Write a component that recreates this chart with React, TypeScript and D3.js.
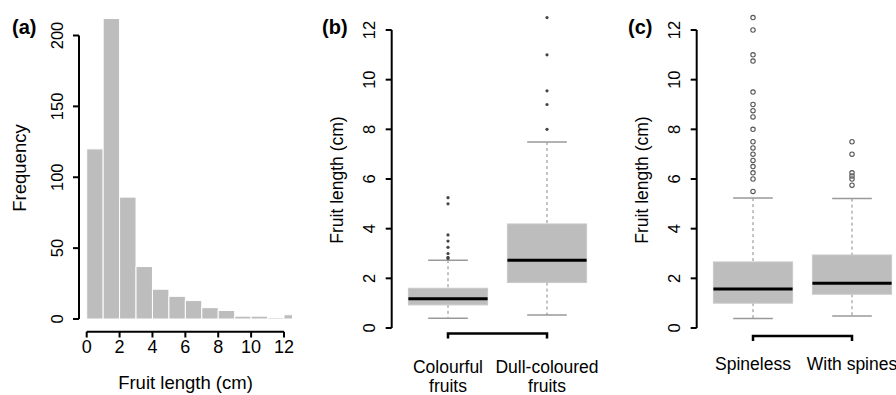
import React from "react";
import * as d3 from "d3";

// (a) histogram of fruit length, 1 cm bins
const binStarts = [0, 1, 2, 3, 4, 5, 6, 7, 8, 9, 10, 11, 12];
const binCounts = [120, 212, 86, 37, 21, 16, 13, 8, 6, 2, 2, 1, 3];
const histXTicks = [0, 2, 4, 6, 8, 10, 12];
const histYTicks = [0, 50, 100, 150, 200];

// (b) colour groups
const colourGroups = [["Colourful", "fruits"], ["Dull-coloured", "fruits"]];
const colourStats = [
  { lo: 0.39, q1: 0.93, med: 1.18, q3: 1.6, hi: 2.73 },
  { lo: 0.52, q1: 1.83, med: 2.73, q3: 4.19, hi: 7.49 },
];
const colourOutliers = [
  [2.8, 2.85, 3.0, 3.25, 3.5, 3.75, 5.0, 5.25],
  [8.0, 9.0, 9.55, 11.0, 12.5],
];

// (c) spine groups
const spineGroups = [["Spineless"], ["With spines"]];
const spineStats = [
  { lo: 0.38, q1: 1.0, med: 1.57, q3: 2.66, hi: 5.23 },
  { lo: 0.48, q1: 1.36, med: 1.8, q3: 2.94, hi: 5.21 },
];
const spineOutliers = [
  [5.5, 6.0, 6.25, 6.5, 6.75, 7.0, 7.25, 7.5, 8.0, 8.5, 8.75, 9.0, 9.5, 10.75, 11.0, 12.0, 12.5],
  [5.75, 6.0, 6.12, 6.25, 7.0, 7.5],
];
const lengthTicks = [0, 2, 4, 6, 8, 10, 12];

const FONT = "'Liberation Sans', Arial, Helvetica, sans-serif";
const GREY = "#bdbdbd";

const xA = d3.scaleLinear().domain([0, 12]).range([86.7, 284]);
const yA = d3.scaleLinear().domain([0, 200]).range([319, 35.5]);
const yLen = d3.scaleLinear().domain([0, 12]).range([328, 30]);
const xB = d3.scaleLinear().domain([1, 2]).range([448, 547]);
const xC = d3.scaleLinear().domain([1, 2]).range([753, 852]);

function YAxis({ x, scale, ticks, labelX, fs }: any) {
  return (
    <g>
      <line x1={x} x2={x} y1={scale(ticks[0])} y2={scale(ticks[ticks.length - 1])} stroke="#000" strokeWidth={2} />
      {ticks.map((t: number) => (
        <g key={t}>
          <line x1={x - 6} x2={x} y1={scale(t)} y2={scale(t)} stroke="#000" strokeWidth={2} />
          <text
            transform={`translate(${labelX},${scale(t)}) rotate(-90)`}
            textAnchor="middle"
            dominantBaseline="central"
            fontSize={fs}
          >
            {t}
          </text>
        </g>
      ))}
    </g>
  );
}

function BoxPanel({ xs, stats, outliers, groups, axisX, letter, letterX, tickLabelX, titleX, bracketY, labelY, open }: any) {
  const bw = (xs(2) - xs(1)) * 0.8;
  return (
    <g>
      <text x={letterX} y={34} fontWeight="bold" fontSize={20}>{letter}</text>
      <YAxis x={axisX} scale={yLen} ticks={lengthTicks} labelX={tickLabelX} fs={16.5} />
      <text transform={`translate(${titleX},180) rotate(-90)`} textAnchor="middle" dominantBaseline="central" fontSize={17.5}>
        Fruit length (cm)
      </text>
      {stats.map((s: any, i: number) => {
        const cx = xs(i + 1);
        return (
          <g key={i}>
            <line x1={cx} x2={cx} y1={yLen(s.hi)} y2={yLen(s.q3)} stroke="#888" strokeDasharray="3,3" />
            <line x1={cx} x2={cx} y1={yLen(s.q1)} y2={yLen(s.lo)} stroke="#888" strokeDasharray="3,3" />
            <line x1={cx - bw / 4} x2={cx + bw / 4} y1={yLen(s.hi)} y2={yLen(s.hi)} stroke="#999" strokeWidth={1.5} />
            <line x1={cx - bw / 4} x2={cx + bw / 4} y1={yLen(s.lo)} y2={yLen(s.lo)} stroke="#999" strokeWidth={1.5} />
            <rect x={cx - bw / 2} y={yLen(s.q3)} width={bw} height={yLen(s.q1) - yLen(s.q3)} fill={GREY} stroke="#c9c9c9" />
            <line x1={cx - bw / 2} x2={cx + bw / 2} y1={yLen(s.med)} y2={yLen(s.med)} stroke="#000" strokeWidth={3} />
            {outliers[i].map((v: number, j: number) =>
              open ? (
                <circle key={j} cx={cx} cy={yLen(v)} r={2.2} fill="none" stroke="#555" strokeWidth={1.1} />
              ) : (
                <circle key={j} cx={cx} cy={yLen(v)} r={1.6} fill="#444" />
              )
            )}
            {groups[i].map((t: string, k: number) => (
              <text key={k} x={cx} y={labelY + k * 18.5} textAnchor="middle" fontSize={17.5}>{t}</text>
            ))}
          </g>
        );
      })}
      <path
        d={`M${xs(1)},${bracketY + 5}V${bracketY}H${xs(2)}V${bracketY + 5}`}
        fill="none"
        stroke="#000"
        strokeWidth={2.5}
      />
    </g>
  );
}

export default function App() {
  const bw = xA(1) - xA(0);
  return (
    <svg width={896} height={395} style={{ position: "absolute", left: 0, top: 0, background: "#fff" }} fontFamily={FONT}>
      <defs>
        <clipPath id="histClip">
          <rect x={70} y={0} width={292 - 70} height={395} />
        </clipPath>
      </defs>
      {/* (a) */}
      <text x={12} y={34} fontWeight="bold" fontSize={20}>(a)</text>
      <g clipPath="url(#histClip)">
        {binStarts.map((b, i) => (
          <rect
            key={b}
            x={xA(b)}
            y={yA(binCounts[i])}
            width={bw}
            height={yA(0) - yA(binCounts[i])}
            fill={GREY}
            stroke="#fff"
            strokeWidth={1}
          />
        ))}
      </g>
      <YAxis x={79} scale={yA} ticks={histYTicks} labelX={56.5} fs={16.5} />
      <text transform="translate(19,168) rotate(-90)" textAnchor="middle" dominantBaseline="central" fontSize={18.5}>
        Frequency
      </text>
      <line x1={xA(0)} x2={xA(12)} y1={331.7} y2={331.7} stroke="#000" strokeWidth={2} />
      {histXTicks.map((t) => (
        <g key={t}>
          <line x1={xA(t)} x2={xA(t)} y1={331.7} y2={337.5} stroke="#000" strokeWidth={2} />
          <text x={xA(t)} y={353} textAnchor="middle" fontSize={18}>{t}</text>
        </g>
      ))}
      <text x={185.5} y={389} textAnchor="middle" fontSize={18.5}>Fruit length (cm)</text>

      {/* (b) */}
      <BoxPanel
        xs={xB}
        stats={colourStats}
        outliers={colourOutliers}
        groups={colourGroups}
        axisX={391.7}
        letter="(b)"
        letterX={322}
        tickLabelX={368.5}
        titleX={337}
        bracketY={333.5}
        labelY={373}
        open={false}
      />

      {/* (c) */}
      <BoxPanel
        xs={xC}
        stats={spineStats}
        outliers={spineOutliers}
        groups={spineGroups}
        axisX={696.7}
        letter="(c)"
        letterX={628}
        tickLabelX={674}
        titleX={642}
        bracketY={336}
        labelY={370}
        open={true}
      />
    </svg>
  );
}
